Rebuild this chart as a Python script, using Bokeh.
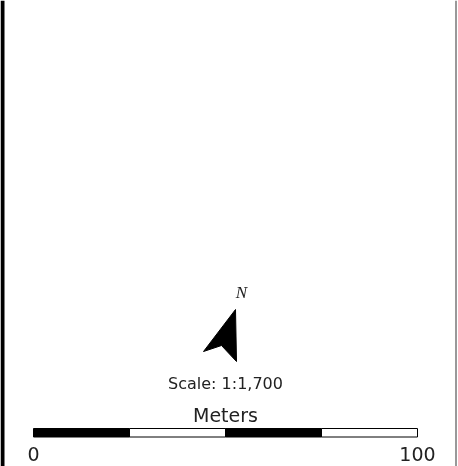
from bokeh.plotting import figure
from bokeh.models import Range1d, ColumnDataSource
from bokeh.core.properties import value
from bokeh.embed import file_html
from bokeh.resources import INLINE

# Scale bar data (meters)
seg_start = [0, 25, 50, 75]
seg_end = [25, 50, 75, 100]
seg_colors = ["black", "white", "black", "white"]
tick_values = [0, 100]
tick_labels = ["0", "100"]
unit_label = "Meters"
scale_label = "Scale: 1:1,700"
north_label = "N"

W, H = 458, 466
px_per_m = 3.84
x0_px = 33

p = figure(width=W, height=H, output_backend="svg", toolbar_location=None,
           x_range=Range1d(-x0_px / px_per_m, (W - x0_px) / px_per_m),
           y_range=Range1d(H, 0), min_border=0, outline_line_color=None)
p.axis.visible = False
p.grid.visible = False
p.background_fill_color = "white"
p.border_fill_color = "white"
p.styles = {"position": "fixed", "left": "0px", "top": "0px"}
p.extra_x_ranges = {"px": Range1d(0, W)}

# frame borders
p.quad(left=[0], right=[4], top=[0], bottom=[H], x_range_name="px",
       fill_color="black", line_color=None)
p.segment(x0=[455.5], x1=[455.5], y0=[0], y1=[H], x_range_name="px",
          line_color="#777777", line_width=1.5)

# scale bar
src = ColumnDataSource(dict(left=seg_start, right=seg_end, color=seg_colors))
p.quad(left="left", right="right", top=428, bottom=436.5, source=src,
       fill_color="color", line_color="black", line_width=1)

p.text(x=tick_values, y=[453, 453], text=tick_labels, text_align="center",
       text_baseline="middle", text_font=value("DejaVu Sans"),
       text_font_size="19px", text_color="#222222")
p.text(x=[50], y=[414], text=[unit_label], text_align="center",
       text_baseline="middle", text_font=value("DejaVu Sans"),
       text_font_size="19px", text_color="#222222")
p.text(x=[50], y=[383], text=[scale_label], text_align="center",
       text_baseline="middle", text_font=value("DejaVu Sans"),
       text_font_size="16px", text_color="#222222")

# north arrow
p.patch(x=[235, 236, 221, 203], y=[309, 361, 345, 351], x_range_name="px",
        fill_color="black", line_color="black", line_width=1)
p.text(x=[241], y=[292], text=[north_label], x_range_name="px", text_align="center",
       text_baseline="middle", text_font=value("Liberation Serif"),
       text_font_style="italic", text_font_size="17px", text_color="#222222")

open("out.html", "w").write(file_html(p, INLINE))
